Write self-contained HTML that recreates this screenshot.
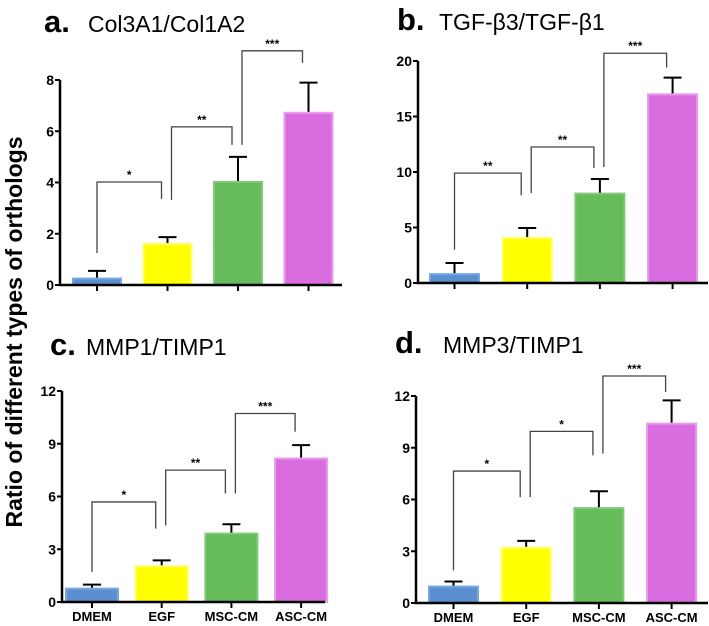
<!DOCTYPE html>
<html><head><meta charset="utf-8">
<style>
body{margin:0;background:#fff;}
svg{display:block;font-family:"Liberation Sans",Arial,sans-serif;}
</style></head>
<body>
<svg id="fig" width="709" height="626" viewBox="0 0 709 626">
<text transform="translate(22,332) rotate(-90)" text-anchor="middle" font-size="23" font-weight="bold">Ratio of different types of orthologs</text>
</svg>
<script>
const groups = ["DMEM","EGF","MSC-CM","ASC-CM"];
const colors = ["#5b8fd0","#ffff00","#66bb5a","#d96ddf"];
const strokes = ["#79a6dc","#ffff66","#7fca74","#e89aec"];

const aValues = [0.25,1.6,4.02,6.72];
const aErrors = [0.3,0.27,0.98,1.18];
const aTicks = [0,2,4,6,8];
const aBrTop = [4.02,6.17,9.14];
const aBrLeft = [1.25,3.32,5.47];
const aBrRight = [3.36,5.47,8.67];
const aStars = ["*","**","***"];

const bValues = [0.8,4.05,8.05,17.0];
const bErrors = [1.0,0.9,1.32,1.5];
const bTicks = [0,5,10,15,20];
const bBrTop = [9.9,12.25,20.7];
const bBrLeft = [3.0,8.1,10.45];
const bBrRight = [7.9,10.35,19.4];
const bStars = ["**","**","***"];

const cValues = [0.76,2.03,3.89,8.16];
const cErrors = [0.23,0.34,0.53,0.76];
const cTicks = [0,3,6,9,12];
const cBrTop = [5.69,7.5,10.72];
const cBrLeft = [1.71,4.36,6.17];
const cBrRight = [4.17,6.17,9.68];
const cStars = ["*","**","***"];

const dValues = [0.95,3.2,5.5,10.4];
const dErrors = [0.3,0.4,0.98,1.35];
const dTicks = [0,3,6,9,12];
const dBrTop = [7.65,9.95,13.16];
const dBrLeft = [1.89,6.14,8.66];
const dBrRight = [6.14,8.56,12.23];
const dStars = ["*","*","***"];

const NS="http://www.w3.org/2000/svg";
const svg=document.getElementById('fig');
function mk(tag,attrs,parent){const e=document.createElementNS(NS,tag);for(const k in attrs)e.setAttribute(k,attrs[k]);(parent||svg).appendChild(e);return e;}

function panel(p){
  const g=mk('g',{});
  
  
  const max=p.ticks[p.ticks.length-1];
  const y=v=>p.y0-(v/max)*(p.y0-p.yTop);
  const cx=i=>p.bx+i*p.step+p.bw/2;
  const t=mk('text',{x:p.tx,y:p.ty,'font-size':31,'font-weight':'bold'},g);
  
  
  t.textContent=p.id+'.';
  const t2=mk('text',{x:p.tx+p.tgap,y:p.ty,'font-size':23},g);
  
  
  t2.textContent=p.title;
  p.values.forEach((v,i)=>{
    const top=y(v+p.errors[i]);
    const eb=mk('path',{d:`M${cx(i)},${y(v)}V${top}M${cx(i)-9},${top}H${cx(i)+9}`,stroke:'#000','stroke-width':2,fill:'none'},g);
    
    
    const r=mk('rect',{x:p.bx+i*p.step+1,y:y(v),width:p.bw-2,height:p.y0-y(v),fill:colors[i],stroke:strokes[i],'stroke-width':2},g);
    
    
  });
  const ax=mk('path',{d:`M${p.ax},${p.yTop}V${p.y0}H${p.xEnd}`,stroke:'#000','stroke-width':2.5,fill:'none'},g);
  
  
  p.ticks.forEach(tv=>{
    mk('line',{x1:p.ax-5,x2:p.ax,y1:y(tv),y2:y(tv),stroke:'#000','stroke-width':2},g);
    const tl=mk('text',{x:p.ax-6,y:y(tv)+5,'font-size':14,'font-weight':'bold','text-anchor':'end'},g);
    
    
    tl.textContent=tv;
  });
  groups.forEach((gname,i)=>{
    mk('line',{x1:cx(i),x2:cx(i),y1:p.y0,y2:p.y0+6,stroke:'#000','stroke-width':2},g);
    if(p.labels){
      const xl=mk('text',{x:cx(i),y:p.y0+19,'font-size':13,'font-weight':'bold','text-anchor':'middle'},g);
      
      
      xl.textContent=gname;
    }
  });
  p.brTop.forEach((tv,i)=>{
    const lx=cx(i)+(i===0?0:4), rx=cx(i+1)-6;
    const b=mk('path',{d:`M${lx},${y(p.brLeft[i])}V${y(tv)}H${rx}V${y(p.brRight[i])}`,stroke:'#444','stroke-width':1.3,fill:'none'},g);
    
    
    const s=mk('text',{x:(lx+rx)/2,y:y(tv)-3,'font-size':12,'font-weight':'bold','text-anchor':'middle'},g);
    
    
    s.textContent=p.stars[i];
  });
}

panel({id:'a',title:'Col3A1/Col1A2',tx:44,ty:32,tgap:44,values:aValues,errors:aErrors,ticks:aTicks,brTop:aBrTop,brLeft:aBrLeft,brRight:aBrRight,stars:aStars,ax:60,y0:285,yTop:80,bx:72,bw:50,step:70.5,xEnd:342,labels:false});
panel({id:'b',title:'TGF-\u03b23/TGF-\u03b21',tx:397,ty:30,tgap:42,values:bValues,errors:bErrors,ticks:bTicks,brTop:bBrTop,brLeft:bBrLeft,brRight:bBrRight,stars:bStars,ax:418,y0:283,yTop:61,bx:429,bw:51,step:72.7,xEnd:708,labels:false});
panel({id:'c',title:'MMP1/TIMP1',tx:50,ty:355,tgap:36,values:cValues,errors:cErrors,ticks:cTicks,brTop:cBrTop,brLeft:cBrLeft,brRight:cBrRight,stars:cStars,ax:62,y0:602,yTop:391,bx:65,bw:54,step:69.7,xEnd:325,labels:true});
panel({id:'d',title:'MMP3/TIMP1',tx:395,ty:353,tgap:48,values:dValues,errors:dErrors,ticks:dTicks,brTop:dBrTop,brLeft:dBrLeft,brRight:dBrRight,stars:dStars,ax:416,y0:603,yTop:396,bx:428,bw:51,step:72.7,xEnd:708,labels:true});
</script>
</body></html>
